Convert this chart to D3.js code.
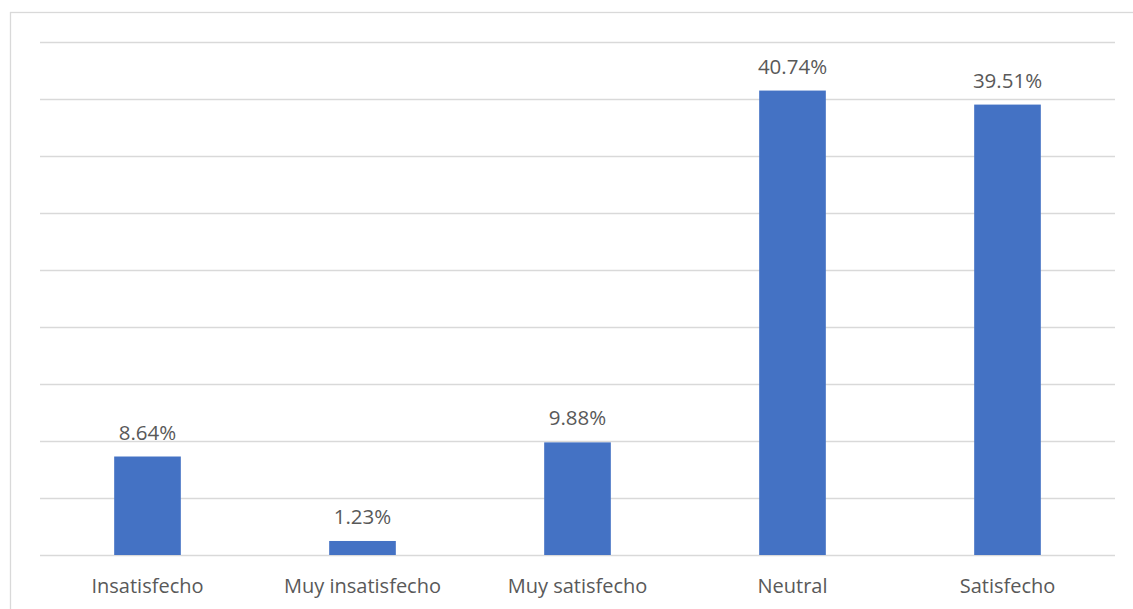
<!DOCTYPE html>
<html>
<head>
<meta charset="utf-8">
<script src="https://cdn.jsdelivr.net/npm/d3@7"></script>
<style>
  html, body { margin: 0; padding: 0; background: #fff; }
  svg { display: block; }
</style>
</head>
<body>
<svg id="chart"></svg>
<script>
// satisfaction survey — single-series column chart, Excel-ish styling
const categories = ["Insatisfecho", "Muy insatisfecho", "Muy satisfecho", "Neutral", "Satisfecho"];
const values = [8.64, 1.23, 9.88, 40.74, 39.51];
const valueLabels = ["8.64%", "1.23%", "9.88%", "40.74%", "39.51%"];
const gridTicks = [0, 5, 10, 15, 20, 25, 30, 35, 40, 45];

const W = 1133, H = 609;
const FONT = "'Open Sans', 'Noto Sans', sans-serif";
const C = { bar: "#4472c4", grid: "#d9d9d9", text: "#595959", frame: "#d9d9d9" };

const svg = d3.select("#chart").attr("width", W).attr("height", H);

// chart frame (runs off the right/bottom edge in the source)
svg.append("rect")
  .attr("x", 10.5).attr("y", 12.5)
  .attr("width", W + 20).attr("height", H + 20)
  .attr("fill", "none").attr("stroke", C.frame).attr("stroke-width", 1.3);

const plot = { left: 40, right: 1115, top: 42, bottom: 555 };

const x = d3.scaleBand().domain(categories)
  .range([plot.left, plot.right]).paddingInner(0.69).paddingOuter(0.345);
const y = d3.scaleLinear().domain([0, 45]).range([plot.bottom, plot.top]);

// gridlines
svg.append("g").selectAll("line").data(gridTicks).join("line")
  .attr("x1", plot.left).attr("x2", plot.right)
  .attr("y1", (d) => Math.round(y(d)) + 0.5).attr("y2", (d) => Math.round(y(d)) + 0.5)
  .attr("stroke", C.grid).attr("stroke-width", 1.3);

// bars
svg.append("g").selectAll("rect").data(values).join("rect")
  .attr("x", (d, i) => x(categories[i]))
  .attr("width", x.bandwidth())
  .attr("y", (d) => y(d))
  .attr("height", (d) => y(0) - y(d))
  .attr("fill", C.bar);

// value labels
svg.append("g").selectAll("text").data(values).join("text")
  .attr("x", (d, i) => x(categories[i]) + x.bandwidth() / 2)
  .attr("y", (d) => y(d) - 17)
  .attr("text-anchor", "middle")
  .attr("font-family", FONT).attr("font-size", 20.5)
  .attr("fill", C.text)
  .text((d, i) => valueLabels[i]);

// category axis labels
const xAxis = d3.axisBottom(x).tickSize(0).tickPadding(0);
const gx = svg.append("g").attr("transform", `translate(0,${plot.bottom})`).call(xAxis);
gx.select(".domain").remove();
gx.selectAll("text")
  .attr("dy", null).attr("y", 38)
  .attr("font-family", FONT).attr("font-size", 20)
  .attr("fill", C.text);
</script>
</body>
</html>
